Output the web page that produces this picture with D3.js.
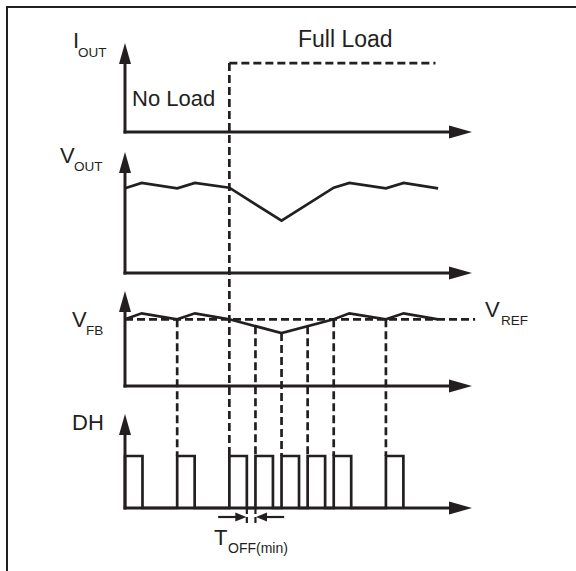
<!DOCTYPE html>
<html>
<head>
<meta charset="utf-8">
<script src="https://cdn.jsdelivr.net/npm/d3@7"></script>
<style>
  html, body { margin: 0; padding: 0; background: #fff; }
  svg { display: block; }
  text { font-family: "Liberation Sans", Arial, sans-serif; fill: #231f20; }
</style>
</head>
<body>
<svg id="chart" width="576" height="571"></svg>
<script>
// Load-step timing diagram: I_OUT, V_OUT, V_FB and DH versus time (arbitrary units)
const timeDomain = [0, 13.3];

// Load current: no load until the step, then full load
const loadStepT = 4;
const loadEndT = 11.9;
const fullLoadLevel = 0.775;

// Output voltage ripple and dip after the load step
const voutT = [0, 0.64, 2, 2.68, 4, 6, 8, 8.6, 10, 10.68, 12];
const voutV = [0.70, 0.744, 0.70, 0.744, 0.705, 0.432, 0.705, 0.744, 0.70, 0.744, 0.70];

// Feedback voltage and reference
const vfbT = [0, 0.64, 2, 2.68, 4, 6, 8, 8.6, 10, 10.68, 12];
const vfbV = [0.702, 0.765, 0.702, 0.765, 0.702, 0.558, 0.702, 0.765, 0.702, 0.765, 0.702];
const vref = 0.702;
const vrefEndT = 13.42;

// High-side drive pulses
const pulseStarts = [0, 2, 4, 5, 6, 7, 8, 10];
const pulseWidth = 0.67;
const pulseHigh = 0.553;

// Minimum off-time annotation (between pulses at t=4 and t=5)
const toffFrom = 4 + pulseWidth;
const toffTo = 5;
const toffArrowReach = 1.1;

const ink = "#231f20";
const svg = d3.select("#chart");

const x = d3.scaleLinear().domain(timeDomain).range([125, 472]);

// Each trace gets its own vertical scale
const yI   = d3.scaleLinear().domain([0, 1]).range([132, 43]);
const yVo  = d3.scaleLinear().domain([0, 1]).range([273, 152]);
const yFb  = d3.scaleLinear().domain([0, 1]).range([386, 291]);
const yDh  = d3.scaleLinear().domain([0, 1]).range([508, 414]);

// Frame (top and left edges)
svg.append("path")
  .attr("d", "M7,571 L7,7 L576,7")
  .attr("fill", "none").attr("stroke", ink).attr("stroke-width", 2);

// Axes with filled arrowheads
function drawAxes(y) {
  const x0 = x(0), yb = y(0), yt = y.range()[1], xe = x.range()[1];
  const g = svg.append("g");
  g.append("line").attr("x1", x0).attr("x2", x0).attr("y1", yb + 1.5).attr("y2", yt + 18)
    .attr("stroke", ink).attr("stroke-width", 3);
  g.append("path").attr("d", `M${x0},${yt} L${x0 - 6},${yt + 21} L${x0 + 6},${yt + 21} Z`).attr("fill", ink);
  g.append("line").attr("x1", x0 - 1.5).attr("x2", xe - 20).attr("y1", yb).attr("y2", yb)
    .attr("stroke", ink).attr("stroke-width", 3);
  g.append("path").attr("d", `M${xe},${yb} L${xe - 23},${yb - 6.5} L${xe - 23},${yb + 6.5} Z`).attr("fill", ink);
}
[yI, yVo, yFb, yDh].forEach(drawAxes);

const dash = "8,4";
const dashWidth = 2.7;

// I_OUT: dashed step to full load
svg.append("path")
  .attr("d", d3.line()([[x(loadStepT), yI(fullLoadLevel)], [x(loadEndT), yI(fullLoadLevel)]]))
  .attr("fill", "none").attr("stroke", ink).attr("stroke-width", dashWidth).attr("stroke-dasharray", dash);

// V_OUT trace
svg.append("path")
  .datum(d3.zip(voutT, voutV))
  .attr("d", d3.line().x(d => x(d[0])).y(d => yVo(d[1])))
  .attr("fill", "none").attr("stroke", ink).attr("stroke-width", 2.7).attr("stroke-linejoin", "miter");

// V_REF dashed reference
svg.append("line")
  .attr("x1", x(0)).attr("x2", x(vrefEndT)).attr("y1", yFb(vref)).attr("y2", yFb(vref))
  .attr("stroke", ink).attr("stroke-width", dashWidth).attr("stroke-dasharray", dash);

// V_FB trace
svg.append("path")
  .datum(d3.zip(vfbT, vfbV))
  .attr("d", d3.line().x(d => x(d[0])).y(d => yFb(d[1])))
  .attr("fill", "none").attr("stroke", ink).attr("stroke-width", 2.7);

// Dashed verticals: each pulse start traced back to V_FB (or to the load step)
const vfbAt = d3.scaleLinear().domain(vfbT).range(vfbV);
pulseStarts.filter(t => t > 0).forEach(t => {
  const yTop = t === loadStepT ? yI(fullLoadLevel) : yFb(vfbAt(t));
  svg.append("line")
    .attr("x1", x(t)).attr("x2", x(t)).attr("y1", yTop).attr("y2", yDh(pulseHigh))
    .attr("stroke", ink).attr("stroke-width", dashWidth).attr("stroke-dasharray", dash);
});

// DH pulse train
const dhPts = [];
pulseStarts.forEach(t => {
  dhPts.push([t, 0], [t, pulseHigh], [t + pulseWidth, pulseHigh], [t + pulseWidth, 0]);
});
svg.append("path")
  .datum(dhPts)
  .attr("d", d3.line().x(d => x(d[0])).y(d => yDh(d[1])))
  .attr("fill", "none").attr("stroke", ink).attr("stroke-width", 2.7).attr("stroke-linejoin", "miter");

// T_OFF(min) markers and arrows
const yArrow = 517;
[toffFrom, toffTo].forEach(t => {
  svg.append("line").attr("x1", x(t)).attr("x2", x(t)).attr("y1", yDh(0)).attr("y2", 526)
    .attr("stroke", ink).attr("stroke-width", 2.2).attr("stroke-dasharray", "6,3");
});
function hArrow(fromT, toT) {
  const x1 = x(fromT), x2 = x(toT), dir = Math.sign(x2 - x1);
  svg.append("line").attr("x1", x1).attr("x2", x2 - dir * 8).attr("y1", yArrow).attr("y2", yArrow)
    .attr("stroke", ink).attr("stroke-width", 2.2);
  svg.append("path").attr("d", `M${x2},${yArrow} L${x2 - dir * 11},${yArrow - 4.5} L${x2 - dir * 11},${yArrow + 4.5} Z`)
    .attr("fill", ink);
}
hArrow(toffFrom - toffArrowReach, toffFrom - 0.02);
hArrow(toffTo + toffArrowReach, toffTo + 0.02);

// Labels
function label(txt, lx, ly, size) {
  svg.append("text").attr("x", lx).attr("y", ly).attr("font-size", size).text(txt);
}
label("I", 73, 48, 22);      label("OUT", 78, 57, 13.5);
label("V", 60, 163, 22);     label("OUT", 74, 171, 13.5);
label("V", 72, 327, 22);     label("FB", 86, 335, 13.5);
label("DH", 72, 430, 22);
label("V", 485, 317, 22);    label("REF", 501, 325, 13.5);
label("Full Load", 298, 47, 23);
label("No Load", 132, 106, 22);
label("T", 214, 545, 22);    label("OFF(min)", 228, 553, 14);
</script>
</body>
</html>
